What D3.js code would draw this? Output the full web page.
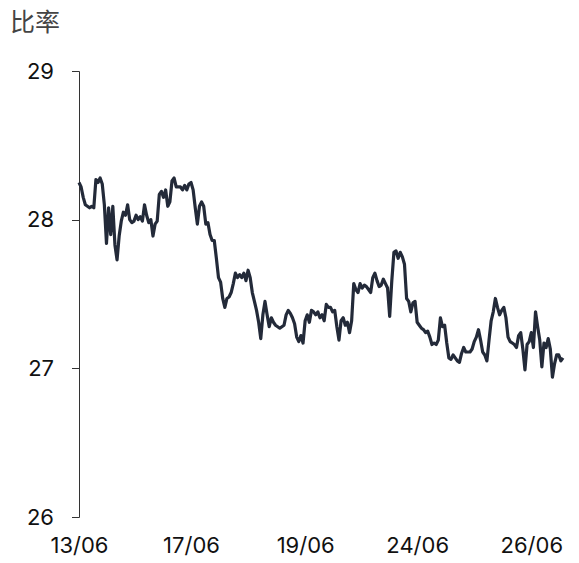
<!DOCTYPE html>
<head>
    <meta charset="utf-8">
    <style>
        body { margin: 0; background: #fff; }
        .tick text { font-family: Inter, "Liberation Sans", Arial, sans-serif; }
    </style>
</head>
<body>
<svg width="579" height="563"></svg>
<script src="https://d3js.org/d3.v7.min.js"></script>
<script>

// 比率 values, one per sample, left to right
var rates = [
  28.25, 28.22, 28.15, 28.10, 28.09, 28.08, 28.09, 28.08, 28.27, 28.25,
  28.28, 28.24, 28.10, 27.84, 28.08, 27.90, 28.09, 27.83, 27.73, 27.89,
  27.99, 28.05, 28.03, 28.10, 28.00, 27.98, 27.99, 28.03, 28.00, 28.02,
  27.99, 28.10, 28.03, 27.98, 28.00, 27.89, 27.97, 27.99, 28.17, 28.19,
  28.15, 28.20, 28.09, 28.12, 28.26, 28.28, 28.22,
  28.22, 28.22, 28.20, 28.23, 28.20, 28.24, 28.25, 28.20, 28.08, 27.97,
  28.09, 28.12, 28.09, 27.97, 27.98, 27.90, 27.86, 27.86, 27.74, 27.61,
  27.58, 27.47, 27.41, 27.47, 27.48, 27.51, 27.57, 27.64, 27.61, 27.63,
  27.61, 27.64, 27.59, 27.66, 27.61, 27.51, 27.45, 27.39, 27.31, 27.20,
  27.36, 27.45, 27.36, 27.28, 27.34, 27.31,
  27.29, 27.28, 27.27, 27.28, 27.29, 27.36, 27.39, 27.37, 27.34, 27.30,
  27.21, 27.18, 27.22, 27.17, 27.32, 27.36, 27.31, 27.39, 27.38, 27.36,
  27.38, 27.34, 27.36, 27.32, 27.43, 27.41, 27.41, 27.38, 27.39, 27.28,
  27.19, 27.32, 27.34, 27.29, 27.31, 27.24, 27.32, 27.57, 27.53, 27.51,
  27.57, 27.54,
  27.56, 27.55, 27.53, 27.51, 27.61, 27.64, 27.59, 27.55, 27.56, 27.60,
  27.57, 27.54, 27.35, 27.59, 27.78, 27.79, 27.74, 27.78, 27.75, 27.70,
  27.47, 27.45, 27.38, 27.44, 27.45, 27.31, 27.29, 27.27, 27.26, 27.24,
  27.25, 27.21, 27.16, 27.17, 27.16, 27.19, 27.34, 27.28, 27.29, 27.17,
  27.07, 27.06, 27.09, 27.07,
  27.05, 27.04, 27.10, 27.14, 27.11, 27.11, 27.11, 27.13, 27.18, 27.21,
  27.26, 27.19, 27.11, 27.09, 27.05, 27.19, 27.32, 27.38, 27.47, 27.41,
  27.36, 27.39, 27.41, 27.34, 27.21, 27.18, 27.17, 27.16, 27.14, 27.22,
  27.24, 27.13, 26.99, 27.16, 27.18, 27.24, 27.14, 27.38, 27.28, 27.19,
  27.01, 27.17, 27.14, 27.20, 27.13, 26.94, 27.03, 27.09, 27.09, 27.05,
  27.07
];

// x axis labels and the sample index each one sits at
var dateLabels = ["13/06", "17/06", "19/06", "24/06", "26/06"];
var dateIdx = [0, 53, 107, 160, 214];

var yTicks = [26, 27, 28, 29];

var svg = d3.select("svg"),
    margin = {top: 71, right: 16, bottom: 46, left: 79},
    width = +svg.attr("width") - margin.left - margin.right,
    height = +svg.attr("height") - margin.top - margin.bottom,
    g = svg.append("g").attr("transform", "translate(" + margin.left + "," + margin.top + ")");

var x = d3.scaleLinear()
    .domain([0, rates.length - 1])
    .range([0, width]);

var y = d3.scaleLinear()
    .domain([26, 29])
    .range([height, 0]);

// y axis: line with end ticks, labels off to the left
var yAxis = g.append("g")
    .call(d3.axisLeft(y).tickValues(yTicks).tickSize(7).tickPadding(18).tickFormat(d3.format("d")));
yAxis.select(".domain").attr("stroke", "#333").attr("d", "M-7,0.5H0.5V" + (height + 0.5) + "H-7");
yAxis.selectAll(".tick line").remove();
yAxis.selectAll(".tick text")
    .attr("font-size", 22)
    .attr("fill", "#111");

// x labels only, no axis line
var xAxis = g.append("g")
    .attr("transform", "translate(0," + height + ")")
    .call(d3.axisBottom(x).tickValues(dateIdx).tickSize(0).tickPadding(20)
        .tickFormat(function(d, i) { return dateLabels[i]; }));
xAxis.select(".domain").remove();
xAxis.selectAll(".tick text")
    .attr("font-size", 22)
    .attr("fill", "#111");

// middle ticks (the end ones are part of the domain path)
g.append("g")
  .selectAll("line")
  .data(yTicks.slice(1, 3))
  .enter().append("line")
    .attr("x1", -7)
    .attr("x2", 0)
    .attr("y1", function(d) { return Math.round(y(d)) + 0.5; })
    .attr("y2", function(d) { return Math.round(y(d)) + 0.5; })
    .attr("stroke", "#333");

var line = d3.line()
    .x(function(d, i) { return x(i); })
    .y(function(d) { return y(d); });

g.append("path")
    .datum(rates)
    .attr("fill", "none")
    .attr("stroke", "#232a39")
    .attr("stroke-width", 3.2)
    .attr("stroke-linejoin", "round")
    .attr("d", line);

svg.append("text")
    .attr("x", 10)
    .attr("y", 31)
    .attr("font-family", "'Noto Sans CJK SC', sans-serif")
    .attr("font-size", 25)
    .attr("fill", "#444")
    .text("比率");

</script>
</body>
